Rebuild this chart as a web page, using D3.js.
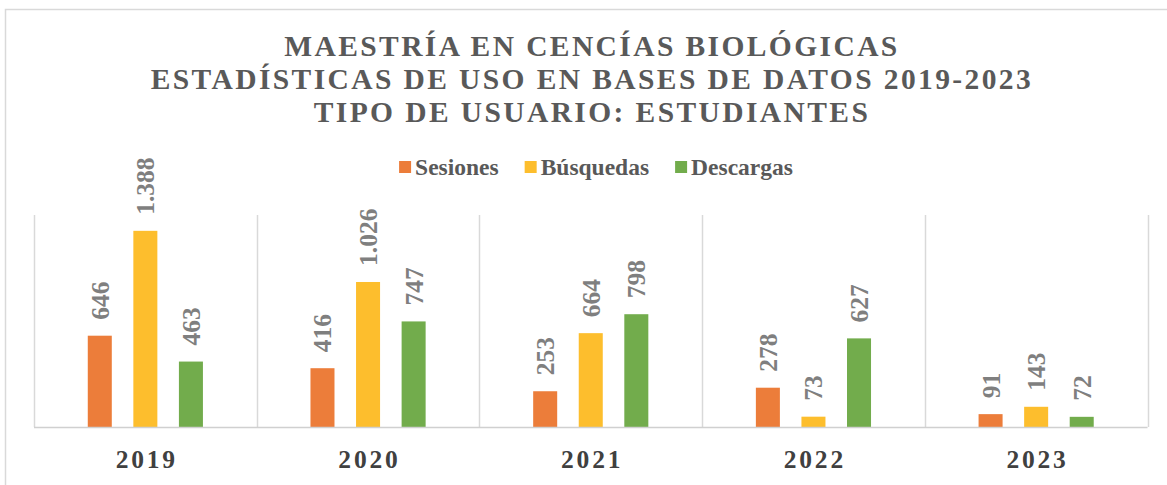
<!DOCTYPE html>
<html>
<head>
<meta charset="utf-8">
<script src="https://cdn.jsdelivr.net/npm/d3@7"></script>
<style>
  body { margin: 0; background: #fff; }
  svg { display: block; font-family: "Liberation Serif", "Times New Roman", serif; }
</style>
</head>
<body>
<svg width="1167" height="485"></svg>
<script>
// datos
var years = ["2019", "2020", "2021", "2022", "2023"];
var seriesNames = ["Sesiones", "Búsquedas", "Descargas"];
var sesiones = [646, 416, 253, 278, 91];
var busquedas = [1388, 1026, 664, 73, 143];
var descargas = [463, 747, 798, 627, 72];
var titleLines = [
    "MAESTRÍA EN CENCÍAS BIOLÓGICAS",
    "ESTADÍSTICAS DE USO EN BASES DE DATOS 2019-2023",
    "TIPO DE USUARIO: ESTUDIANTES"
];
var colors = ["#EC7D3A", "#FDBE2D", "#72AC4C"];

window.onload = function(){
    build_chart();
}

function build_chart(){
    var svg = d3.select("svg"),
        margin = {top: 215, right: 20, bottom: 58, left: 34},
        width = 1147.5 - margin.left,
        height = 427 - margin.top;

    // borde exterior
    svg.append("rect")
        .attr("x", 5.5).attr("y", 9.5)
        .attr("width", 1200).attr("height", 500)
        .attr("fill", "none")
        .attr("stroke", "#d9d9d9")
        .attr("stroke-width", 1.5);

    var g = svg.append("g").attr("transform", "translate(" + margin.left + "," + margin.top + ")");

    var x0 = d3.scaleBand().domain(years).range([0, width]).padding(0);
    var x1 = d3.scaleBand().domain(seriesNames).range([0, x0.bandwidth()])
        .paddingInner(0.473).paddingOuter(1.18);
    var y = d3.scaleLinear().domain([0, 1500]).range([height, 0]);
    var z = d3.scaleOrdinal().domain(seriesNames).range(colors);

    var fmt = d3.formatLocale({decimal: ",", thousands: ".", grouping: [3], currency: ["", ""]}).format(",");

    var data = years.map(function(yr, i) {
        return {year: yr, values: [sesiones[i], busquedas[i], descargas[i]]};
    });

    // lineas verticales entre categorias
    var bounds = years.map(function(d) { return x0(d); }).concat([x0.range()[1]]);
    g.append("g").selectAll("line")
        .data(bounds)
        .enter().append("line")
        .attr("x1", function(d) { return Math.round(d) + 0.5; })
        .attr("x2", function(d) { return Math.round(d) + 0.5; })
        .attr("y1", 0)
        .attr("y2", height)
        .attr("stroke", "#d9d9d9")
        .attr("stroke-width", 1.5);

    var groups = g.append("g")
        .selectAll("g")
        .data(data)
        .enter().append("g")
        .attr("transform", function(d) { return "translate(" + x0(d.year) + ",0)"; });

    var cells = groups.selectAll("g")
        .data(function(d) { return seriesNames.map(function(key, k) { return {key: key, value: d.values[k]}; }); })
        .enter().append("g");

    cells.append("rect")
        .attr("x", function(d) { return x1(d.key); })
        .attr("y", function(d) { return y(d.value); })
        .attr("width", x1.bandwidth())
        .attr("height", function(d) { return height - y(d.value); })
        .attr("fill", function(d) { return z(d.key); });

    cells.append("text")
        .attr("transform", function(d) {
            return "translate(" + (x1(d.key) + x1.bandwidth() / 2) + "," + (y(d.value) - 16) + ") rotate(-90)";
        })
        .attr("dy", "0.35em")
        .attr("text-anchor", "start")
        .attr("font-size", 25.5)
        .attr("font-weight", "bold")
        .attr("fill", "#7f7f7f")
        .text(function(d) { return fmt(d.value); });

    // eje base
    g.append("line")
        .attr("x1", 0).attr("x2", width)
        .attr("y1", height + 0.5).attr("y2", height + 0.5)
        .attr("stroke", "#d0d0d0")
        .attr("stroke-width", 1.5);

    g.append("g")
        .selectAll("text")
        .data(years)
        .enter().append("text")
        .attr("x", function(d) { return x0(d) + x0.bandwidth() / 2 + 1.4; })
        .attr("y", height + 41)
        .attr("text-anchor", "middle")
        .attr("font-size", 25.5)
        .attr("font-weight", "bold")
        .attr("letter-spacing", 2.8)
        .attr("fill", "#404040")
        .text(function(d) { return d; });

    // titulo
    var cx = margin.left + width / 2;
    svg.append("g").selectAll("text")
        .data(titleLines)
        .enter().append("text")
        .attr("x", cx + 1.2)
        .attr("y", function(d, i) { return 56 + i * 33; })
        .attr("text-anchor", "middle")
        .attr("font-size", 29.5)
        .attr("font-weight", "bold")
        .attr("letter-spacing", 2.4)
        .attr("fill", "#595959")
        .text(function(d) { return d; });

    // leyenda
    var legend = svg.append("g");
    var items = legend.selectAll("g")
        .data(seriesNames)
        .enter().append("g");
    items.append("rect")
        .attr("width", 12).attr("height", 12)
        .attr("y", -6)
        .attr("fill", z);
    items.append("text")
        .attr("x", 16)
        .attr("dy", "0.34em")
        .attr("font-size", 23.5)
        .attr("font-weight", "bold")
        .attr("fill", "#595959")
        .text(function(d) { return d; });
    var offset = 0;
    items.each(function() {
        var w = this.getBBox().width;
        d3.select(this).attr("transform", "translate(" + offset + ",0)");
        offset += w + 26;
    });
    var total = offset - 26;
    legend.attr("transform", "translate(" + (596 - total / 2) + ",167)");
}
</script>
</body>
</html>
